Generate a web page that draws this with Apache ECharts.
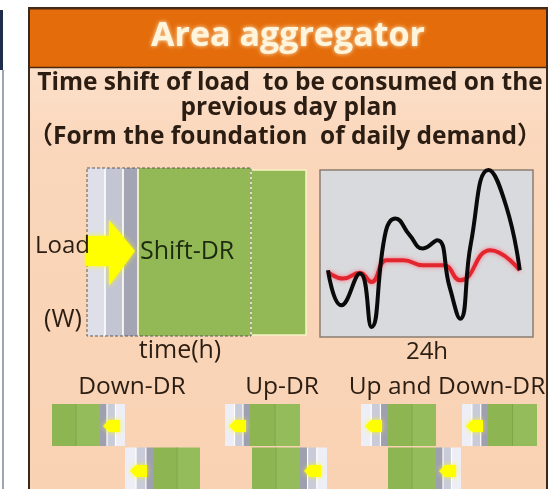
<!DOCTYPE html>
<html>
<head>
<meta charset="utf-8">
<script src="https://cdn.jsdelivr.net/npm/echarts@6/dist/echarts.min.js"></script>
<style>
html,body{margin:0;padding:0;background:#fff;}
#c{width:557px;height:489px;}
</style>
</head>
<body>
<div id="c"></div>
<script>
// ---- data ----
const titleText = 'Area aggregator';
const headLines = ['Time shift of load  to be consumed on the', 'previous day plan', '（Form the foundation  of daily demand）'];
const drLabels = ['Down-DR', 'Up-DR', 'Up and Down-DR'];
// hours of the day (0-24) and relative load (0-100)
const blackHours = [0.9, 2.4, 4.5, 5.8, 7.4, 8.5, 10.1, 11.6, 13.2, 14.6, 15.8, 17.0, 19.0, 21.0, 22.5];
const blackLoad  = [40, 19, 38, 6, 63, 71, 61, 53, 58, 30, 11, 56, 100, 78, 40];
const redHours = [0.9, 2.6, 4.5, 5.8, 7.5, 9.4, 11.6, 13.9, 15.8, 19.2, 22.5];
const redLoad  = [39, 35, 38.5, 33, 46, 46, 43, 43, 34, 52, 40];

const chart = echarts.init(document.getElementById('c'), null, {renderer: 'canvas'});

const txt = '#2B1D12';
const green = '#8DB653';
const green2 = '#95BC5A';

function T(text, x, y, size, opts) {
  opts = opts || {};
  return {
    type: 'text', x: x, y: y, z: 20,
    style: {
      text: text, fill: opts.fill || txt,
      font: (opts.weight || 'normal') + ' ' + size + 'px "Open Sans", "Noto Sans CJK SC", sans-serif',
      align: opts.align || 'center', verticalAlign: 'middle',
      textAlign: opts.align || 'center', textVerticalAlign: 'middle',
      textShadowColor: opts.shadow || 'transparent', textShadowBlur: opts.shadow ? 4 : 0
    }
  };
}
function R(x, y, w, h, fill, z, extra) {
  const o = {type: 'rect', z: z || 5, shape: {x: x, y: y, width: w, height: h}, style: Object.assign({fill: fill}, extra || {})};
  return o;
}
function stripeZone(x0, x1, y0, y1, greenSide) {
  const els = [];
  const w = x1 - x0;
  const bands = [['#EEEEF6', 0.38], ['#C9CBD9', 0.34], ['#9EA0B0', 0.28]];
  let pos = 0;
  const segs = [];
  bands.forEach(b => { segs.push([pos, pos + b[1] * w, b[0]]); pos += b[1] * w; });
  segs.forEach((s, i) => {
    let a, bb;
    if (greenSide === 'right') { a = x0 + s[0]; bb = x0 + s[1]; }
    else { a = x1 - s[1]; bb = x1 - s[0]; }
    els.push(R(a, y0, bb - a, y1 - y0, s[2], 6));
  });
  [0.38, 0.72].forEach(f => {
    const xx = greenSide === 'right' ? x0 + f * w : x1 - f * w;
    els.push({type: 'line', z: 7, shape: {x1: xx, y1: y0, x2: xx, y2: y1}, style: {stroke: '#FFFFFF', lineWidth: 1.2}});
  });
  return els;
}
function greenBlock(x0, x1, y0, y1) {
  const m = (x0 + x1) / 2;
  return [
    R(x0, y0, m - x0, y1 - y0, green, 6),
    R(m, y0, x1 - m, y1 - y0, green2, 6),
    {type: 'line', z: 7, shape: {x1: m, y1: y0, x2: m, y2: y1}, style: {stroke: '#7FA548', lineWidth: 1}}
  ];
}
function smallArrow(cx, cy) {
  return {type: 'polygon', z: 9, shape: {points: [[cx - 9, cy], [cx - 3, cy - 6], [cx + 8, cy - 6], [cx + 8, cy + 6], [cx - 3, cy + 6]]},
    style: {fill: '#FFFF00', shadowColor: 'rgba(255,255,0,0.8)', shadowBlur: 5}};
}

const g = [];
g.push(R(0, 10, 3, 60, '#1F2D4A', 1));
g.push(R(2, 70, 2, 419, '#9AA6B8', 1));
g.push({type: 'rect', z: -10, shape: {x: 29, y: 8, width: 518, height: 490},
  style: {fill: new echarts.graphic.LinearGradient(0, 0, 0, 1, [
    {offset: 0, color: '#FDE6D4'}, {offset: 0.3, color: '#FAD6BA'}, {offset: 1, color: '#F9D2B3'}]),
    stroke: '#3A2A1E', lineWidth: 2}});
g.push(R(30, 9, 516, 58, '#E46C0A', 2));
g.push({type: 'line', z: 3, shape: {x1: 29, y1: 67.5, x2: 547, y2: 67.5}, style: {stroke: '#4A2A10', lineWidth: 1.5}});
g.push({type: 'line', z: 3, shape: {x1: 29, y1: 8.5, x2: 547, y2: 8.5}, style: {stroke: '#4A2A10', lineWidth: 2}});
g.push(T(titleText, 288, 36, 34, {weight: 'bold', fill: '#FFF4DC', shadow: 'rgba(255,250,220,0.9)'}));
g.push(T(headLines[0], 290, 83, 24.5, {weight: 'bold'}));
g.push(T(headLines[1], 289, 108, 24.5, {weight: 'bold'}));
g.push(T(headLines[2], 285, 137, 24.5, {weight: 'bold'}));

g.push(R(87, 168, 18, 168, '#DEDFE8', 5));
g.push(R(105.5, 168, 17, 168, '#C3C5D2', 5));
g.push(R(123.5, 168, 14, 168, '#A3A5B4', 5));
g.push({type: 'line', z: 6, shape: {x1: 105, y1: 168, x2: 105, y2: 336}, style: {stroke: '#FFFFFF', lineWidth: 1.5}});
g.push({type: 'line', z: 6, shape: {x1: 123, y1: 168, x2: 123, y2: 336}, style: {stroke: '#FFFFFF', lineWidth: 1.5}});
g.push(R(137.5, 168, 113.5, 168, '#92B955', 5));
g.push({type: 'line', z: 6, shape: {x1: 138, y1: 168, x2: 138, y2: 336}, style: {stroke: '#F6F2CC', lineWidth: 1.8}});
g.push(R(251, 170, 55, 165, '#92B955', 5, {stroke: '#F8F3C8', lineWidth: 1.5}));
g.push({type: 'rect', z: 8, shape: {x: 87, y: 168, width: 164, height: 168},
  style: {fill: 'none', stroke: '#5A5A5A', lineWidth: 1, lineDash: [3, 2]}});
g.push({type: 'polygon', z: 9, shape: {points: [[86, 236], [109, 236], [109, 220], [135, 251], [109, 286], [109, 266], [86, 266]]},
  style: {fill: '#FFFF00', shadowColor: 'rgba(255,255,0,0.9)', shadowBlur: 5}});
g.push(T('Load', 35, 246, 24, {align: 'left'}));
g.push(T('(W)', 63, 320, 25));
g.push(T('Shift-DR', 140, 252, 25, {align: 'left', fill: '#1E2A10'}));
g.push(T('time(h)', 180, 351, 25));
g.push(T('24h', 427, 352, 24));

g.push(T(drLabels[0], 132, 387, 24.5));
g.push(T(drLabels[1], 282, 387, 24.5));
g.push(T(drLabels[2], 447, 387, 24.5));
const yT0 = 404, yT1 = 446, yB0 = 447.5, yB1 = 492;
g.push(...greenBlock(52, 100, yT0, yT1));
g.push(...stripeZone(100, 125, yT0, yT1, 'left'));
g.push(smallArrow(112, 426));
g.push(...stripeZone(125, 154, yB0, yB1, 'right'));
g.push(...greenBlock(154, 200, yB0, yB1));
g.push(smallArrow(139, 471));
g.push(...stripeZone(225, 250, yT0, yT1, 'right'));
g.push(...greenBlock(250, 300, yT0, yT1));
g.push(smallArrow(238, 426));
g.push(...greenBlock(252, 300, yB0, yB1));
g.push(...stripeZone(300, 327, yB0, yB1, 'left'));
g.push(smallArrow(313, 471));
g.push(...stripeZone(361, 388, yT0, yT1, 'right'));
g.push(...greenBlock(388, 436, yT0, yT1));
g.push(smallArrow(374, 426));
g.push(...greenBlock(388, 436, yB0, yB1));
g.push(...stripeZone(436, 461, yB0, yB1, 'left'));
g.push(smallArrow(448, 471));
g.push(...stripeZone(462, 488, yT0, yT1, 'right'));
g.push(...greenBlock(488, 537, yT0, yT1));
g.push(smallArrow(475, 426));

const option = {
  animation: false,
  backgroundColor: '#FFFFFF',
  grid: {left: 320, top: 170, width: 213, height: 167, show: true, backgroundColor: '#D9DADD', borderColor: '#8C7E70', borderWidth: 1.5, z: 0},
  xAxis: {type: 'value', min: 0, max: 24, show: false},
  yAxis: {type: 'value', min: 0, max: 100, show: false},
  graphic: {elements: g},
  series: [
    {type: 'line', data: redHours.map((h, i) => [h, redLoad[i]]), smooth: 0.5, symbol: 'none', clip: false,
      lineStyle: {color: '#E3262E', width: 4, shadowColor: 'rgba(255,90,110,0.8)', shadowBlur: 4}, z: 3},
    {type: 'line', data: blackHours.map((h, i) => [h, blackLoad[i]]), smooth: 0.5, symbol: 'none', clip: false,
      lineStyle: {color: '#0A0A0A', width: 4}, z: 4}
  ]
};
chart.setOption(option);
</script>
</body>
</html>
